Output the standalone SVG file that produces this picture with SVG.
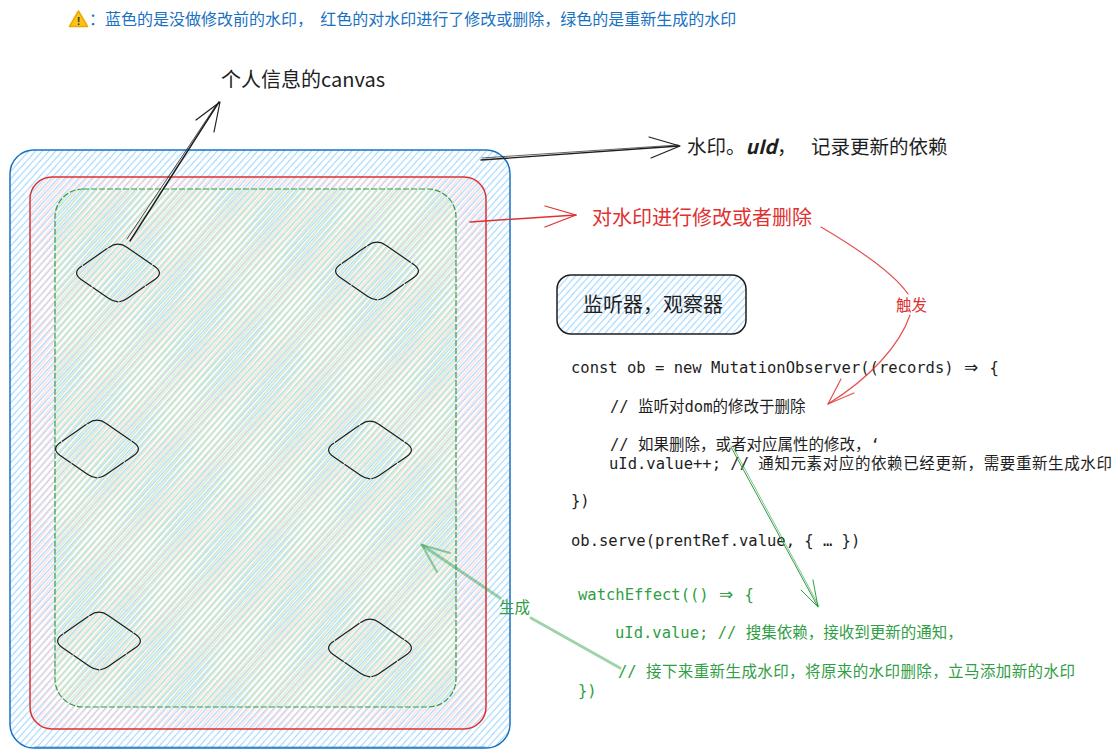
<svg xmlns="http://www.w3.org/2000/svg" width="1120" height="756" viewBox="0 0 1120 756">
<style>
.hw{font-family:"Noto Sans CJK SC","Noto Sans",sans-serif;}
.code{font-family:"DejaVu Sans Mono","Noto Sans CJK SC",monospace;font-size:15.5px;white-space:pre;}
.arr{font-family:"DejaVu Sans",sans-serif;font-size:17px;}
.blk{fill:#1e1e1e;}
.grn{fill:#2f9e44;}
.dia{fill:none;stroke:#1e1e1e;stroke-width:1.2;stroke-dasharray:30 1;}
</style>
<defs>
<pattern id="hB" width="5" height="5" patternUnits="userSpaceOnUse" patternTransform="rotate(42)"><line x1="2.5" y1="0" x2="2.5" y2="5" stroke="#a5d8ff" stroke-width="1.2"/></pattern>
<pattern id="hR" width="5" height="5" patternUnits="userSpaceOnUse" patternTransform="rotate(40)"><line x1="1" y1="0" x2="1" y2="5" stroke="#ffc9c9" stroke-width="1"/></pattern>
<pattern id="hG" width="4.5" height="4.5" patternUnits="userSpaceOnUse" patternTransform="rotate(41)"><line x1="3.5" y1="0" x2="3.5" y2="4.5" stroke="#b2f2bb" stroke-width="1"/></pattern>
<path id="diamond" d="M9.2,-25.6 L36.8,-6.4 Q46,0 36.8,6.4 L9.2,25.6 Q0,32 -9.2,25.6 L-36.8,6.4 Q-46,0 -36.8,-6.4 L-9.2,-25.6 Q0,-32 9.2,-25.6 Z"/>
</defs>
<rect width="1120" height="756" fill="#ffffff"/>

<g id="note">
<path d="M78.5,11 L87.5,26.5 L69.5,26.5 Z" fill="#fcc419" stroke="#f0a800" stroke-width="1.5" stroke-linejoin="round"/>
<text x="78.5" y="25" text-anchor="middle" font-family="Liberation Sans,sans-serif" font-weight="bold" font-size="11" fill="#333">!</text>
<text x="89" y="25" class="hw" font-size="16" fill="#1971c2" style="white-space:pre">：蓝色的是没做修改前的水印，  红色的对水印进行了修改或删除，绿色的是重新生成的水印</text>
</g>

<g id="watermark-blue">
<rect x="10" y="150" width="500" height="598" rx="24" fill="url(#hB)" stroke="#1971c2" stroke-width="1.5"/>
<path d="M34,747 L486,747" stroke="#1971c2" stroke-width="1" opacity="0.6"/>
</g>
<g id="watermark-red">
<rect x="30" y="177" width="456" height="552" rx="22" fill="url(#hR)" stroke="#e03131" stroke-width="1.5"/>
</g>
<g id="watermark-green">
<rect x="55" y="189" width="401" height="518" rx="28" fill="url(#hG)" stroke="#2f9e44" stroke-width="1.2" stroke-dasharray="6 2"/>
</g>

<g id="canvas-1"><use href="#diamond" class="dia" transform="translate(118,273)"/></g>
<g id="canvas-2"><use href="#diamond" class="dia" transform="translate(377,271)"/></g>
<g id="canvas-3"><use href="#diamond" class="dia" transform="translate(97,449)"/></g>
<g id="canvas-4"><use href="#diamond" class="dia" transform="translate(370,450)"/></g>
<g id="canvas-5"><use href="#diamond" class="dia" transform="translate(99,641)"/></g>
<g id="canvas-6"><use href="#diamond" class="dia" transform="translate(370,648)"/></g>

<g id="label-canvas"><text x="221" y="87" class="hw blk" font-size="20">个人信息的canvas</text></g>
<g id="label-uid"><text y="153.5" class="hw blk" font-size="19.5"><tspan x="687">水印。</tspan><tspan font-style="italic" font-weight="bold">uId</tspan><tspan>，</tspan><tspan x="811">记录更新的依赖</tspan></text></g>
<g id="label-modify"><text x="592" y="225" class="hw" font-size="20" fill="#e03131">对水印进行修改或者删除</text></g>

<g id="observer-box">
<rect x="557" y="275" width="189" height="59" rx="14" fill="url(#hB)" stroke="#1e1e1e" stroke-width="1.5"/>
<text x="583" y="312" class="hw blk" font-size="20">监听器，观察器</text>
</g>

<g id="code-observer" class="code blk">
<text x="571" y="373">const ob = new MutationObserver((records) <tspan class="arr" dx="1">⇒</tspan><tspan dx="2"> {</tspan></text>
<text x="610" y="412">// 监听对dom的修改于删除</text>
<text x="610" y="450">// 如果删除，或者对应属性的修改，‘</text>
<text x="609" y="469">uId.value++; // <tspan letter-spacing="0.6">通知元素对应的依赖已经更新，需要重新生成水印</tspan></text>
<text x="571" y="506">})</text>
<text x="571" y="546">ob.serve(prentRef.value, { … })</text>
</g>

<g id="code-watch" class="code grn">
<text x="578" y="600">watchEffect(() <tspan class="arr" dx="1">⇒</tspan><tspan dx="2"> {</tspan></text>
<text x="615" y="638">uId.value; // 搜集依赖，接收到更新的通知，</text>
<text x="618" y="677">// <tspan letter-spacing="0.4">接下来重新生成水印，将原来的水印删除，立马添加新的水印</tspan></text>
<text x="578" y="696">})</text>
</g>

<g id="connectors" fill="none" stroke-linecap="round" stroke-linejoin="round">
<g stroke="#1e1e1e">
<path d="M130,241 L219,102" stroke-width="1.4"/>
<path d="M127,239 L217,104" stroke-width="0.8"/>
<path d="M196,120 L220,102 L214,132" stroke-width="1.2"/>
<path d="M481,160 L679,146" stroke-width="1.4"/>
<path d="M482,158 L678,145" stroke-width="0.7"/>
<path d="M649,137 L680,146 L651,158" stroke-width="1.2"/>
</g>
<g stroke="#e03131">
<path d="M470,222 L576,215" stroke-width="1.5"/>
<path d="M545,206 L576,215 L545,227" stroke-width="1.3"/>
<path d="M821,227 C860,250 895,275 908,294" stroke-width="1.2" opacity="0.85"/>
<path d="M910,315 C900,345 870,378 828,404" stroke-width="1.2" opacity="0.85"/>
<path d="M841,379 L828,404 L854,393" stroke-width="1.2" opacity="0.85"/>
</g>
<g stroke="#2f9e44">
<path d="M731,447 L818,607" stroke-width="1"/>
<path d="M733,447 L819,606" stroke-width="0.6"/>
<path d="M801,590 L818,607 L813,580" stroke-width="1"/>
<path d="M422,545 L500,598" stroke-width="3" opacity="0.45"/>
<path d="M531,618 L620,668" stroke-width="3" opacity="0.45"/>
<path d="M450,553 L422,545 L437,572" stroke-width="2" opacity="0.5"/>
</g>
</g>
<g id="label-trigger"><text x="896" y="310.5" class="hw" font-size="15.5" fill="#e03131">触发</text></g>
<g id="label-generate"><text x="499" y="612.5" class="hw" font-size="15.5" fill="#2f9e44">生成</text></g>
</svg>
